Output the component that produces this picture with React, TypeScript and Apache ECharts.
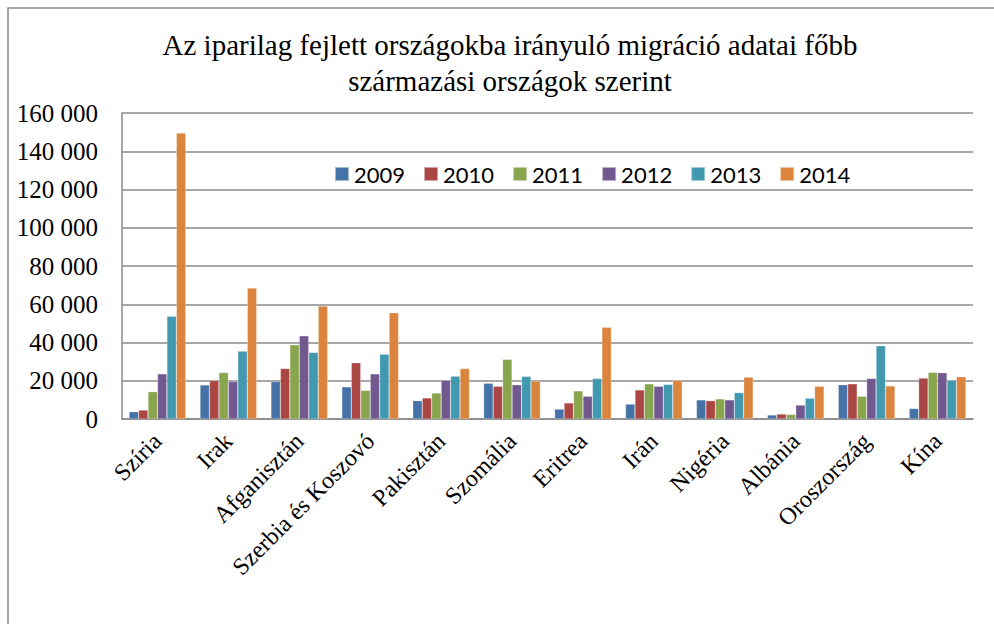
import React, { useEffect, useRef } from "react";
import * as echarts from "echarts";

const categories = ["Szíria", "Irak", "Afganisztán", "Szerbia és Koszovó", "Pakisztán", "Szomália", "Eritrea", "Irán", "Nigéria", "Albánia", "Oroszország", "Kína"];
const years = ["2009", "2010", "2011", "2012", "2013", "2014"];
const v2009 = [3800, 17800, 19600, 16800, 9600, 18700, 5200, 7800, 10000, 2100, 17900, 5500];
const v2010 = [4700, 20100, 26400, 29400, 11000, 17100, 8400, 15200, 9600, 2600, 18400, 21400];
const v2011 = [14300, 24300, 38800, 15000, 13600, 31200, 14700, 18400, 10500, 2400, 11900, 24400];
const v2012 = [23600, 19600, 43500, 23600, 20200, 17900, 11900, 17100, 10000, 7300, 21200, 24200];
const v2013 = [53700, 35500, 34800, 33900, 22400, 22300, 21200, 18100, 13800, 10900, 38300, 20200];
const v2014 = [149500, 68500, 59100, 55600, 26400, 19800, 48000, 20200, 21900, 17100, 17300, 22100];
const seriesValues = [v2009, v2010, v2011, v2012, v2013, v2014];
const colors = ["#4572A7", "#AA4643", "#89A54E", "#71588F", "#4198AF", "#DB843D"];
const titleText = "Az iparilag fejlett országokba irányuló migráció adatai főbb\nszármazási országok szerint";

export default function App() {
  const ref = useRef<HTMLDivElement>(null);
  useEffect(() => {
    document.body.style.margin = "0";
    const chart = echarts.init(ref.current!, null, { renderer: "svg" });
    chart.setOption({
      animation: false,
      backgroundColor: "#ffffff",
      color: colors,
      graphic: [
        {
          type: "rect",
          shape: { x: 8, y: 8, width: 1000, height: 700 },
          style: { fill: "none", stroke: "#8c8c8c", lineWidth: 1.5 },
          z: -1,
        },
      ],
      title: {
        text: titleText,
        left: 505,
        textAlign: "center",
        top: 22,
        textStyle: {
          fontFamily: "Liberation Serif",
          fontSize: 29,
          fontWeight: "normal",
          color: "#000",
          lineHeight: 36,
        },
      },
      legend: {
        data: years,
        left: 329,
        top: 158,
        itemWidth: 14,
        itemHeight: 14,
        itemGap: 18,
        icon: "rect",
        textStyle: { fontFamily: "Lato", fontSize: 22, color: "#000" },
      },
      grid: { left: 122, right: 21, top: 113, bottom: 205, containLabel: false },
      xAxis: {
        type: "category",
        data: categories,
        axisLine: { show: true, lineStyle: { color: "#888", width: 1.5 } },
        axisTick: { show: false },
        axisLabel: {
          rotate: 45,
          interval: 0,
          margin: 18,
          fontFamily: "Liberation Serif",
          fontSize: 24,
          color: "#000",
        },
      },
      yAxis: {
        type: "value",
        min: 0,
        max: 160000,
        interval: 20000,
        axisLine: { show: true, lineStyle: { color: "#888", width: 1.5 } },
        axisTick: { show: false },
        splitLine: { show: true, lineStyle: { color: "#8a8a8a", width: 1.5 } },
        axisLabel: {
          margin: 24,
          fontFamily: "Liberation Serif",
          fontSize: 25,
          color: "#000",
          formatter: (v: number) => String(v).replace(/\B(?=(\d{3})+(?!\d))/g, " "),
        },
      },
      series: years.map((y, i) => ({
        name: y,
        type: "bar",
        data: seriesValues[i],
        barGap: "0%",
        barCategoryGap: "20%",
        itemStyle: { color: colors[i], borderColor: "rgba(255,255,255,0.5)", borderWidth: 0.5 },
      })),
    });
    return () => chart.dispose();
  }, []);
  return <div ref={ref} style={{ width: 994, height: 624 }} />;
}
